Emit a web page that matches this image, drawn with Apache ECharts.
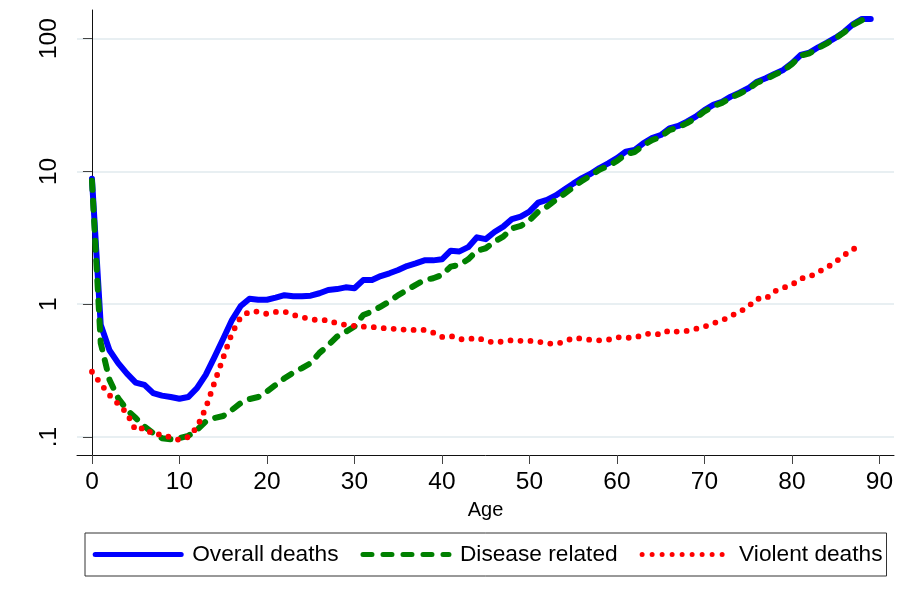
<!DOCTYPE html>
<html>
<head>
<meta charset="utf-8">
<script src="https://cdn.jsdelivr.net/npm/echarts@6/dist/echarts.min.js"></script>
<style>html,body{margin:0;padding:0;background:#fff;}#c{width:904px;height:604px;}</style>
</head>
<body>
<div id="c"></div>
<script>
const ages = [0,1,2,3,4,5,6,7,8,9,10,11,12,13,14,15,16,17,18,19,20,21,22,23,24,25,26,27,28,29,30,31,32,33,34,35,36,37,38,39,40,41,42,43,44,45,46,47,48,49,50,51,52,53,54,55,56,57,58,59,60,61,62,63,64,65,66,67,68,69,70,71,72,73,74,75,76,77,78,79,80,81,82,83,84,85,86,87,88,89];
const overall = [8.8,0.70,0.45,0.36,0.30,0.257,0.247,0.214,0.205,0.200,0.194,0.200,0.233,0.294,0.40,0.55,0.76,0.97,1.10,1.08,1.08,1.12,1.17,1.15,1.15,1.16,1.21,1.28,1.30,1.34,1.32,1.52,1.52,1.63,1.71,1.81,1.94,2.03,2.14,2.14,2.18,2.53,2.50,2.69,3.19,3.09,3.50,3.84,4.38,4.57,4.98,5.82,6.1,6.6,7.3,8.1,8.9,9.6,10.6,11.5,12.6,14.1,14.5,16.3,17.8,18.8,21.1,22.0,23.7,25.9,29.0,31.7,33.5,36.6,39.2,42.3,47.4,50.3,54.2,58.1,65.3,75.4,78.5,86.1,93.3,101.8,113,129,140.7,140.7];
const disease = [8.5,0.51,0.27,0.196,0.16,0.139,0.12,0.107,0.098,0.096,0.098,0.102,0.113,0.131,0.139,0.144,0.16,0.18,0.193,0.20,0.22,0.247,0.277,0.305,0.33,0.36,0.43,0.49,0.57,0.62,0.68,0.83,0.88,0.96,1.05,1.17,1.28,1.40,1.52,1.57,1.66,1.92,1.98,2.18,2.53,2.64,2.96,3.23,3.73,3.89,4.27,4.98,5.43,6.1,6.8,7.6,8.5,9.3,10.3,11.0,12.0,13.5,14.0,15.7,17.2,18.2,20.5,21.4,23.1,25.3,28.3,31.0,32.8,35.9,38.5,41.6,46.6,49.5,53.4,57.3,64.4,74.5,77.6,85.1,92.3,100.8,112,127,138];
const violent = [0.31,0.252,0.207,0.177,0.151,0.112,0.118,0.104,0.105,0.099,0.095,0.100,0.118,0.165,0.257,0.396,0.605,0.80,0.88,0.88,0.845,0.875,0.88,0.83,0.80,0.77,0.757,0.76,0.715,0.70,0.687,0.678,0.675,0.66,0.66,0.644,0.644,0.64,0.64,0.611,0.567,0.577,0.545,0.545,0.56,0.53,0.514,0.525,0.536,0.53,0.53,0.523,0.508,0.502,0.523,0.557,0.55,0.539,0.535,0.54,0.564,0.56,0.557,0.59,0.605,0.59,0.637,0.62,0.63,0.652,0.678,0.72,0.753,0.817,0.875,0.96,1.10,1.10,1.25,1.33,1.40,1.56,1.61,1.75,1.89,2.09,2.35,2.62,2.6];
const xTicks = [0,10,20,30,40,50,60,70,80,90];
const yTicks = [0.1,1,10,100];
const yTickLabels = ['.1','1','10','100'];
const seriesNames = ['Overall deaths','Disease related','Violent deaths'];

function pairs(vals){ return vals.map((v,i)=>[ages[i], v]); }

const FONT = "'Liberation Sans', Arial, sans-serif";
const chart = echarts.init(document.getElementById('c'), null, {renderer:'canvas'});
chart.setOption({
  animation: false,
  backgroundColor: '#ffffff',
  grid: {left: 77, right: 10, top: 10, bottom: 149, containLabel: false},
  xAxis: {
    type: 'value', min: -1.71, max: 91.66,
    name: 'Age', nameLocation: 'middle', nameGap: 45,
    nameTextStyle: {fontFamily: FONT, fontSize: 20, color: '#000'},
    axisLine: {show: true, onZero: false, lineStyle: {color: '#111', width: 1}},
    axisTick: {show: true, length: 9, customValues: xTicks, lineStyle: {color: '#444', width: 1}},
    axisLabel: {customValues: xTicks, margin: 15, fontFamily: FONT, fontSize: 24.5, color: '#000'},
    splitLine: {show: false}
  },
  yAxis: {
    type: 'log', logBase: 10, min: 0.0732, max: 164.4,
    axisLine: {show: true, lineStyle: {color: '#111', width: 1}},
    axisTick: {show: true, length: 9, customValues: yTicks, lineStyle: {color: '#444', width: 1}},
    axisLabel: {customValues: yTicks, rotate: 90, margin: 15, fontFamily: FONT, fontSize: 24.5, color: '#000',
      formatter: function(v){ const i = yTicks.findIndex(t => Math.abs(t - v) / t < 1e-6); return i >= 0 ? yTickLabels[i] : ''; }},
    splitLine: {show: true, lineStyle: {color: '#e8eff2', width: 2}}
  },
  legend: {
    data: seriesNames,
    left: 85, top: 533,
    orient: 'horizontal',
    itemWidth: 86, itemHeight: 1, itemGap: 22,
    padding: [10, 4, 10, 7.7],
    borderColor: '#333', borderWidth: 1,
    textStyle: {fontFamily: FONT, fontSize: 22.7, color: '#000', padding: [0,0,0,6]},
    lineStyle: {width: 5},
    itemStyle: {opacity: 0},
    selectedMode: false
  },
  series: [
    {name: seriesNames[0], type: 'line', data: pairs(overall), symbol: 'none', smooth: false,
      lineStyle: {color: '#0000ff', width: 6, cap: 'round', join: 'round'}, itemStyle: {color: '#0000ff'}, z: 2},
    {name: seriesNames[1], type: 'line', data: pairs(disease), symbol: 'none', smooth: false,
      lineStyle: {color: '#008000', width: 6, type: [9, 11], cap: 'round', join: 'round'}, itemStyle: {color: '#008000'}, z: 3},
    {name: seriesNames[2], type: 'line', data: pairs(violent), symbol: 'none', smooth: false,
      lineStyle: {color: '#ff0000', width: 5.8, type: [0, 10], cap: 'round', join: 'round'}, itemStyle: {color: '#ff0000'}, z: 4}
  ]
});
</script>
</body>
</html>
